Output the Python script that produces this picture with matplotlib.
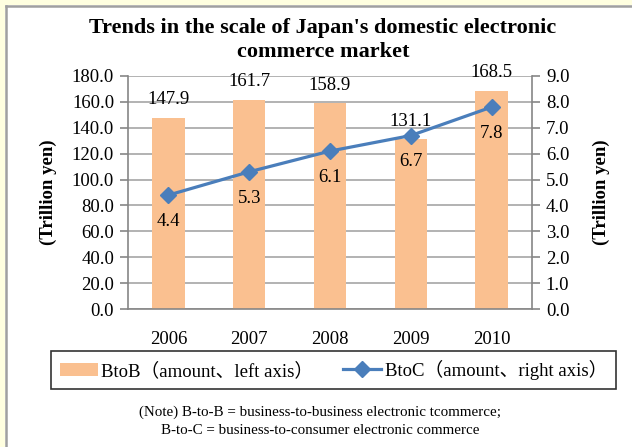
import matplotlib.pyplot as plt
import matplotlib.patches as mpatches
import numpy as np

plt.rcParams['font.family'] = ['Liberation Serif', 'Noto Sans CJK JP']

# data
years = ['2006', '2007', '2008', '2009', '2010']
btob = [147.9, 161.7, 158.9, 131.1, 168.5]
btoc = [4.4, 5.3, 6.1, 6.7, 7.8]
left_ticks = [0, 20, 40, 60, 80, 100, 120, 140, 160, 180]
right_ticks = [0, 1, 2, 3, 4, 5, 6, 7, 8, 9]

bar_color = '#FAC090'
line_color = '#4A7EBB'
grid_color = '#A6A6A6'

fig = plt.figure(figsize=(6.32, 4.47), dpi=100)
fig.patch.set_facecolor('white')

# outer frame (yellow strip + gray line, left and top)
fig.patches.append(mpatches.Rectangle((0, 0), 5 / 632, 1, transform=fig.transFigure,
                                      facecolor='#FFFFE0', edgecolor='none', zorder=0))
fig.patches.append(mpatches.Rectangle((0, 1 - 5 / 447), 1, 5 / 447, transform=fig.transFigure,
                                      facecolor='#FFFFE0', edgecolor='none', zorder=0))
fig.add_artist(plt.Line2D([5.5 / 632, 5.5 / 632], [0, 1 - 5.5 / 447], transform=fig.transFigure,
                          color='#A0A0A0', lw=1.8))
fig.add_artist(plt.Line2D([5.5 / 632, 1], [1 - 5.5 / 447, 1 - 5.5 / 447], transform=fig.transFigure,
                          color='#A0A0A0', lw=1.8))

ax = fig.add_axes([128 / 632, 1 - 309 / 447, 404 / 632, 233 / 447])
ax2 = ax.twinx()
ax.set_zorder(1)
ax2.set_zorder(2)
ax.patch.set_visible(False)

fs = 13.5
x = np.arange(len(years))
ax.bar(x, btob, width=0.4, color=bar_color, zorder=2, label='BtoB（amount、left axis）')
ax.set_xlim(-0.5, len(years) - 0.5)
ax.set_ylim(0, 180)
ax.set_yticks(left_ticks)
ax.set_yticklabels(['%.1f' % v for v in left_ticks], fontsize=fs)
ax.set_xticks(x)
ax.set_xticklabels(years, fontsize=fs)
ax.tick_params(axis='x', length=0, pad=16)
ax.tick_params(axis='y', length=6, color='#868686', width=1.2, pad=4)
ax.yaxis.grid(True, color=grid_color, lw=1.2, zorder=0)
ax.set_axisbelow(True)
for s in ['top', 'right']:
    ax.spines[s].set_visible(False)
ax.spines['left'].set_color('#868686')
ax.spines['left'].set_linewidth(1.2)
ax.spines['bottom'].set_color('#868686')
ax.spines['bottom'].set_linewidth(1.2)
ax.set_ylabel('(Trillion yen)', fontsize=13.5, fontweight='bold', labelpad=11)

for xi, v in zip(x, btob):
    ax.annotate('%.1f' % v, (xi, v), xytext=(0, 13), textcoords='offset points',
                ha='center', va='center', fontsize=fs, zorder=5)

ax2.plot(x, btoc, color=line_color, lw=2.3, marker='D', markersize=8.5,
         label='BtoC（amount、right axis）')
ax2.set_ylim(0, 9)
ax2.set_yticks(right_ticks)
ax2.set_yticklabels(['%.1f' % v for v in right_ticks], fontsize=fs)
ax2.tick_params(axis='y', length=6, color='#868686', width=1.2, pad=4)
for s in ['top', 'left', 'bottom']:
    ax2.spines[s].set_visible(False)
ax2.spines['right'].set_color('#868686')
ax2.spines['right'].set_linewidth(1.2)
ax2.set_ylabel('(Trillion yen)', fontsize=13.5, fontweight='bold', labelpad=17)

for xi, v in zip(x, btoc):
    ax2.annotate('%.1f' % v, (xi, v), xytext=(0, -19), textcoords='offset points',
                 ha='center', va='center', fontsize=fs)

fig.text(323 / 632, 1 - 28 / 447, "Trends in the scale of Japan's domestic electronic",
         ha='center', va='center', fontsize=16, fontweight='bold')
fig.text(323 / 632, 1 - 52 / 447, 'commerce market',
         ha='center', va='center', fontsize=16, fontweight='bold')

h1, l1 = ax.get_legend_handles_labels()
h2, l2 = ax2.get_legend_handles_labels()
leg = fig.legend(h1 + h2, l1 + l2, loc='center', bbox_to_anchor=(333.5 / 632, 1 - 370 / 447),
                 ncol=2, fontsize=13.5, frameon=True, fancybox=False, edgecolor='black',
                 handlelength=2.0, handletextpad=0.2, columnspacing=1.6,
                 borderpad=0.5, borderaxespad=0)
leg.get_frame().set_linewidth(1.2)

fig.text(320 / 632, 1 - 412 / 447,
         '(Note) B-to-B = business-to-business electronic tcommerce;',
         ha='center', va='center', fontsize=10.8, family='Liberation Serif')
fig.text(320 / 632, 1 - 430 / 447,
         'B-to-C = business-to-consumer electronic commerce',
         ha='center', va='center', fontsize=10.8, family='Liberation Serif')

fig.savefig('out.png', dpi=100)
